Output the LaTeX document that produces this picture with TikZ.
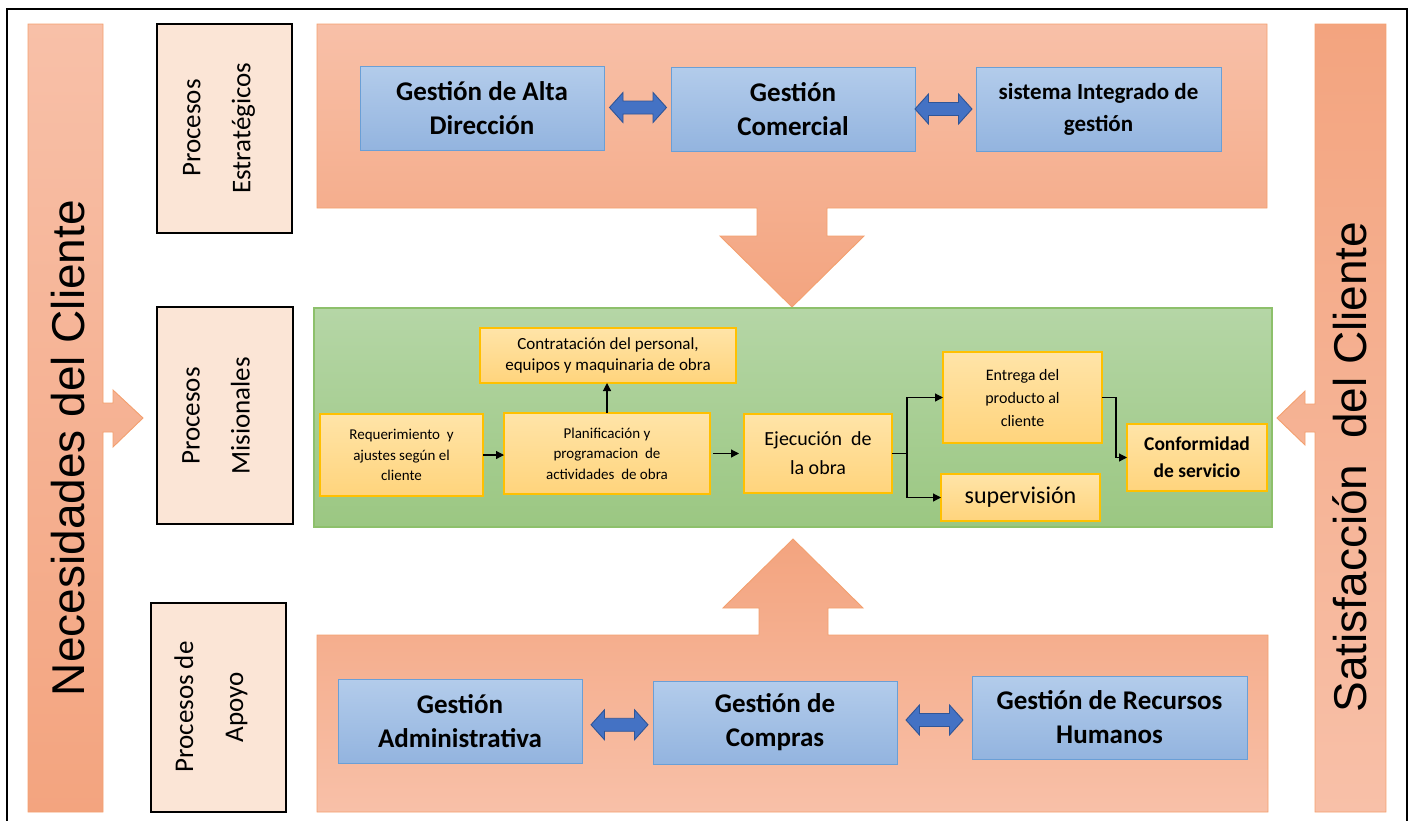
\documentclass[tikz,border=0pt]{standalone}
\usepackage{fontspec}
\setmainfont{Carlito}
\newfontfamily\sidefont{Liberation Sans}
\usetikzlibrary{arrows.meta,calc}

\definecolor{orangeline}{HTML}{F3A06F}
\definecolor{orangelight}{HTML}{F8C0A8}
\definecolor{orangedeep}{HTML}{F3A47F}
\definecolor{labelfill}{HTML}{FBE5D6}
\definecolor{bluetop}{HTML}{B3CCEB}
\definecolor{bluebot}{HTML}{93B4DF}
\definecolor{blueline}{HTML}{6A9FD6}
\definecolor{arrowblue}{HTML}{4472C4}
\definecolor{arrowline}{HTML}{2F5597}
\definecolor{greentop}{HTML}{B5D6A6}
\definecolor{greenbot}{HTML}{9BC782}
\definecolor{greenline}{HTML}{8DC06B}
\definecolor{yellowtop}{HTML}{FFE4A8}
\definecolor{yellowbot}{HTML}{FFD47C}
\definecolor{yellowline}{HTML}{FFC000}

\begin{document}
\begin{tikzpicture}[x=1pt,y=-1pt,
  every node/.style={inner sep=0pt,outer sep=0pt},
  orangeshape/.style={draw=orangeline,line width=0.9pt},
  labelbox/.style={draw=black,line width=1.6pt,fill=labelfill},
  labeltext/.style={rotate=90,align=center,font=\fontsize{27}{50}\selectfont},
  sidetext/.style={rotate=90,anchor=base,font=\sidefont\fontsize{46}{54}\selectfont},
  bluebox/.style={draw=blueline,line width=0.9pt,top color=bluetop,bottom color=bluebot,
    align=center,font=\bfseries\fontsize{27}{34}\selectfont},
  greenbox/.style={draw=greenline,line width=1.3pt,top color=greentop,bottom color=greenbot},
  yellowbox/.style={draw=yellowline,line width=1.4pt,top color=yellowtop,bottom color=yellowbot,align=center},
  flow/.style={line width=1.2pt,-{Triangle[length=8pt,width=8pt]}},
  pics/dblarrow/.style={code={
    \draw[fill=arrowblue,draw=arrowline,line width=0.9pt]
      (-28.5,0) -- (-15,-15) -- (-15,-6.5) -- (15,-6.5) -- (15,-15) -- (28.5,0)
      -- (15,15) -- (15,6.5) -- (-15,6.5) -- (-15,15) -- cycle;}}
]
\useasboundingbox (0,0) rectangle (1412,820);

% outer frame
\draw[line width=1.8pt] (7,9) rectangle (1407,828);

% side bars with their arrows
\draw[orangeshape,top color=orangelight,bottom color=orangedeep]
  (28,24) -- (103,24) -- (103,403) -- (113,403) -- (113,390) -- (143,418)
  -- (113,447) -- (113,432) -- (103,432) -- (103,812) -- (28,812) -- cycle;
\draw[orangeshape,top color=orangedeep,bottom color=orangelight]
  (1315,24) -- (1386,24) -- (1386,812) -- (1315,812) -- (1315,432) -- (1305,432)
  -- (1305,445) -- (1277,418) -- (1305,391) -- (1305,404) -- (1315,404) -- cycle;
\node[sidetext] (necT) at (84,448) {Necesidades del Cliente};
\node[sidetext] (satT) at (1366,467) {Satisfacción\ \ del Cliente};

% strategic panel with its downward arrow
\draw[orangeshape,top color=orangelight,bottom color=orangedeep]
  (317,24) -- (1267,24) -- (1267,208) -- (827,208) -- (827,236) -- (864,236)
  -- (792,307) -- (720,236) -- (757,236) -- (757,208) -- (317,208) -- cycle;

% support panel with its upward arrow
\draw[orangeshape,top color=orangedeep,bottom color=orangelight]
  (317,635) -- (759,635) -- (759,608) -- (723,608) -- (793,539) -- (863,608)
  -- (828,608) -- (828,635) -- (1268,635) -- (1268,812) -- (317,812) -- cycle;

% row labels
\node[labelbox,minimum width=135pt,minimum height=209pt] (estr) at (224.5,128.5) {};
\node[labeltext] (estrT) at (219,128) {Procesos\\Estratégicos};
\node[labelbox,minimum width=136pt,minimum height=217pt] (mis) at (225,415.5) {};
\node[labeltext] (misT) at (216,416) {Procesos\\Misionales};
\node[labelbox,minimum width=135pt,minimum height=209pt] (apo) at (218.5,707.5) {};
\node[labeltext] (apoT) at (211,707) {Procesos de\\Apoyo};

% strategic processes
\node[bluebox,minimum width=244pt,minimum height=84pt] (alta) at (482,108) {Gestión de Alta\\Dirección};
\node[bluebox,minimum width=244pt,minimum height=84pt] (comercial) at (793,109) {Gestión\\Comercial};
\node[bluebox,minimum width=245pt,minimum height=84pt,font=\bfseries\fontsize{23}{32}\selectfont]
  (sig) at (1098.5,109) {sistema Integrado de\\gestión};
\pic at ($(alta.east)!0.5!(comercial.west)+(0.5,-1)$) {dblarrow};
\pic at ($(comercial.east)!0.5!(sig.west)+(-2,0)$) {dblarrow};

% support processes
\node[bluebox,minimum width=244pt,minimum height=84pt] (adm) at (460,721) {Gestión\\Administrativa};
\node[bluebox,minimum width=244pt,minimum height=83pt] (compras) at (775,722.5) {Gestión de\\Compras};
\node[bluebox,minimum width=275pt,minimum height=83pt] (rrhh) at (1109.5,717.5) {Gestión de Recursos\\Humanos};
\pic at ($(adm.east)!0.5!(compras.west)+(2,3)$) {dblarrow};
\pic at ($(compras.east)!0.5!(rrhh.west)$) {dblarrow};

% mission processes
\node[greenbox,minimum width=958pt,minimum height=219pt] (area) at (793,417.5) {};
\node[yellowbox,minimum width=163pt,minimum height=82pt,font=\fontsize{15}{20.5}\selectfont]
  (req) at (401.5,455) {Requerimiento\ \ y\\ajustes según el\\cliente};
\node[yellowbox,minimum width=206pt,minimum height=81pt,font=\fontsize{15}{20.5}\selectfont]
  (plan) at (607,453.5) {Planificación y\\programacion\ \ de\\actividades\ \ de obra};
\node[yellowbox,minimum width=256pt,minimum height=55pt,font=\fontsize{17}{21}\selectfont]
  (contr) at (608,355.5) {Contratación del personal,\\equipos y maquinaria de obra};
\node[yellowbox,minimum width=148pt,minimum height=79pt,font=\fontsize{20}{29}\selectfont]
  (ejec) at (818,453.5) {Ejecución\ \ de\\la obra};
\node[yellowbox,minimum width=159pt,minimum height=91pt,font=\fontsize{16}{23}\selectfont]
  (entrega) at (1022.5,397.5) {Entrega del\\producto al\\cliente};
\node[yellowbox,minimum width=159pt,minimum height=47pt,font=\fontsize{24}{28}\selectfont]
  (superv) at (1020.5,497.5) {supervisión};
\node[yellowbox,minimum width=140pt,minimum height=67pt,font=\bfseries\fontsize{19.5}{27}\selectfont]
  (conf) at (1197,457.5) {Conformidad\\de servicio};

\coordinate (split) at (907,453.5);
\draw[flow] (req.east) -- (req.east -| plan.west);
\draw[flow] (plan.north) -- (plan.north |- contr.south);
\draw[flow,shorten <=3pt,shorten >=5pt] (plan.east) -- (plan.east -| ejec.west);
\draw[line width=1.2pt] (ejec.east) -- (split);
\draw[flow] (split) |- (entrega.west);
\draw[flow] (split) |- (superv.west);
\draw[flow] (entrega.east) -- ++(14,0) |- (conf.west);
\end{tikzpicture}
\end{document}
